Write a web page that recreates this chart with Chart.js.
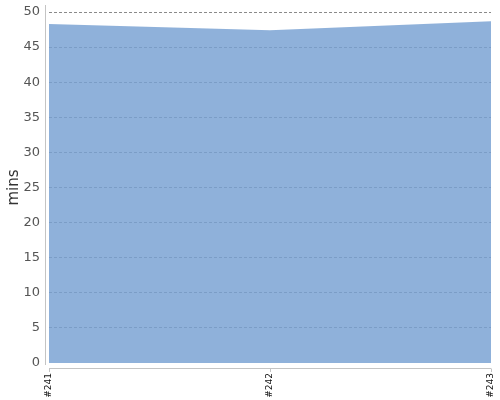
<!DOCTYPE html>
<html>
<head>
<meta charset="utf-8">
<script src="https://cdn.jsdelivr.net/npm/chart.js@4/dist/chart.umd.min.js"></script>
<style>
  html, body { margin: 0; padding: 0; background: #fff; }
  #wrap { width: 500px; height: 400px; }
</style>
</head>
<body>
<div id="wrap"><canvas id="grafico"></canvas></div>
<script>
const builds = ['#241', '#242', '#243'];
const minutos = [48.3, 47.4, 48.7];
const yTicks = [0, 5, 10, 15, 20, 25, 30, 35, 40, 45, 50];

// axis lines sit a little away from the plot area, like the original
const ejes = {
    id: 'ejes',
    afterDraw(chart) {
        const { ctx, chartArea, scales } = chart;
        ctx.save();
        ctx.strokeStyle = '#c4c4c4';
        ctx.lineWidth = 1;
        ctx.beginPath();
        ctx.moveTo(chartArea.left - 3.5, chartArea.top - 7);
        ctx.lineTo(chartArea.left - 3.5, chartArea.bottom + 2);
        ctx.moveTo(chartArea.left, chartArea.bottom + 5.5);
        ctx.lineTo(chartArea.right, chartArea.bottom + 5.5);
        scales.x.ticks.forEach((t, i) => {
            const x = Math.round(scales.x.getPixelForTick(i)) + 0.5;
            ctx.moveTo(x, chartArea.bottom + 5.5);
            ctx.lineTo(x, chartArea.bottom + 9);
        });
        ctx.stroke();
        ctx.restore();
    }
};

const ctx = document.getElementById('grafico').getContext('2d');
new Chart(ctx, {
    type: 'line',
    data: {
        labels: builds,
        datasets: [{
            label: 'mins',
            data: minutos,
            fill: 'origin',
            borderWidth: 0,
            borderColor: 'rgba(0,0,0,0)',
            backgroundColor: 'rgba(120,161,210,0.83)',
            pointRadius: 0,
            tension: 0
        }]
    },
    options: {
        responsive: true,
        maintainAspectRatio: false,
        animation: false,
        layout: { padding: { top: 12, right: 9, left: 0, bottom: 0 } },
        plugins: {
            legend: { display: false },
            tooltip: { enabled: false }
        },
        scales: {
            x: {
                grid: { display: false, drawTicks: false },
                border: { display: false },
                afterFit: s => {
                    s.height = 37;
                    s.paddingLeft = 0;
                    s.paddingRight = 0;
                },
                ticks: {
                    minRotation: 90,
                    maxRotation: 90,
                    padding: 10,
                    color: '#111',
                    font: { family: 'DejaVu Sans', size: 9 }
                }
            },
            y: {
                min: 0,
                max: 50,
                afterFit: s => {
                    s.width = 49;
                    s.paddingTop = 0;
                    s.paddingBottom = 0;
                },
                afterBuildTicks: s => { s.ticks = yTicks.map(v => ({ value: v })); },
                border: { display: false, dash: [3, 2] },
                grid: {
                    drawTicks: false,
                    color: c => (c.tick && c.tick.value === 0 ? 'rgba(0,0,0,0)' : '#8a8a8a'),
                    lineWidth: 1
                },
                title: {
                    display: true,
                    text: 'mins',
                    color: '#333',
                    padding: { top: 5, bottom: 0 },
                    font: { family: 'DejaVu Sans', size: 15 }
                },
                ticks: {
                    padding: 9,
                    color: '#555',
                    font: { family: 'DejaVu Sans', size: 13 }
                }
            }
        }
    },
    plugins: [ejes]
});
</script>
</body>
</html>
